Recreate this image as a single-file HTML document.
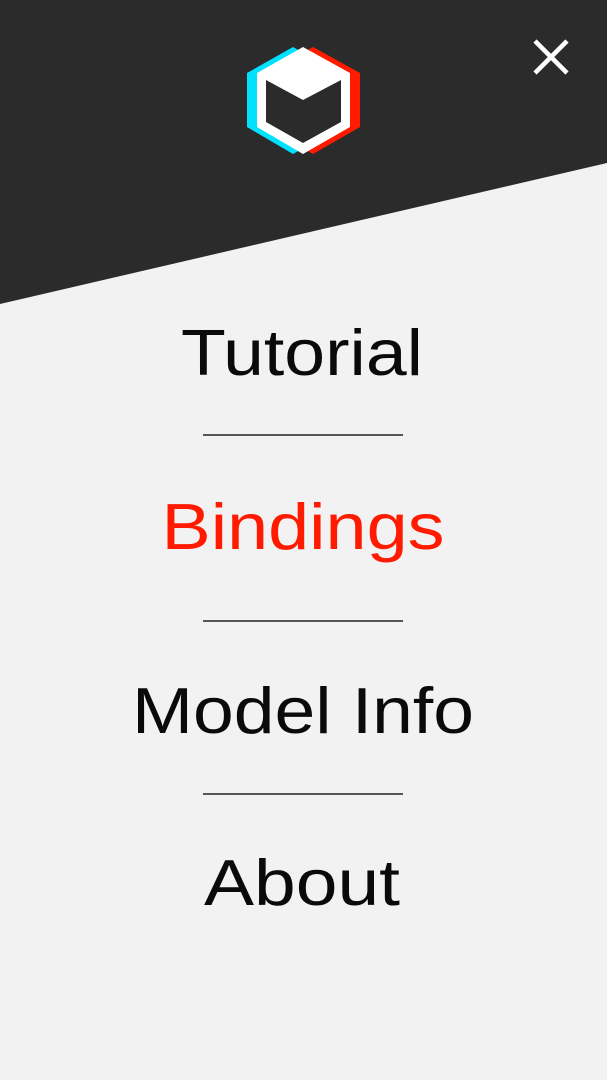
<!DOCTYPE html>
<html><head><meta charset="utf-8"><style>
html,body{margin:0;padding:0;background:#f2f2f2;width:607px;height:1080px;overflow:hidden}
svg{display:block}
text{font-family:"Liberation Sans",sans-serif;font-size:65px;text-anchor:middle}
</style></head><body>
<svg width="607" height="1080" viewBox="0 0 607 1080">
<rect width="607" height="1080" fill="#f2f2f2"/>
<polygon points="0,0 607,0 607,163 0,304" fill="#2b2b2b"/>
<g>
<polygon points="293,47 340,73 340,127 293,154 247,127 247,73" fill="#00e1ff"/>
<polygon points="313,47 360,73 360,127 313,154 267,127 267,73" fill="#ff1a00"/>
<polygon points="303,47 350,73 350,127 303,154 257,127 257,73" fill="#ffffff"/>
<polygon points="266,80 303,100 341,80 341,122 303,143 266,122" fill="#2b2b2b"/>
</g>
<g stroke="#fff" stroke-width="4.5">
<line x1="535" y1="41" x2="567" y2="73"/><line x1="567" y1="41" x2="535" y2="73"/>
</g>
<text x="302" y="375" fill="#0a0a0a" textLength="242" lengthAdjust="spacingAndGlyphs">Tutorial</text>
<line x1="203" y1="435" x2="403" y2="435" stroke="#222" stroke-width="1.5"/>
<text x="303" y="549" fill="#ff1a00" textLength="283" lengthAdjust="spacingAndGlyphs">Bindings</text>
<line x1="203" y1="621" x2="403" y2="621" stroke="#222" stroke-width="1.5"/>
<text x="303" y="733" fill="#0a0a0a" textLength="342" lengthAdjust="spacingAndGlyphs">Model Info</text>
<line x1="203" y1="794" x2="403" y2="794" stroke="#222" stroke-width="1.5"/>
<text x="302" y="905" fill="#0a0a0a" textLength="196" lengthAdjust="spacingAndGlyphs">About</text>
</svg>
</body></html>
